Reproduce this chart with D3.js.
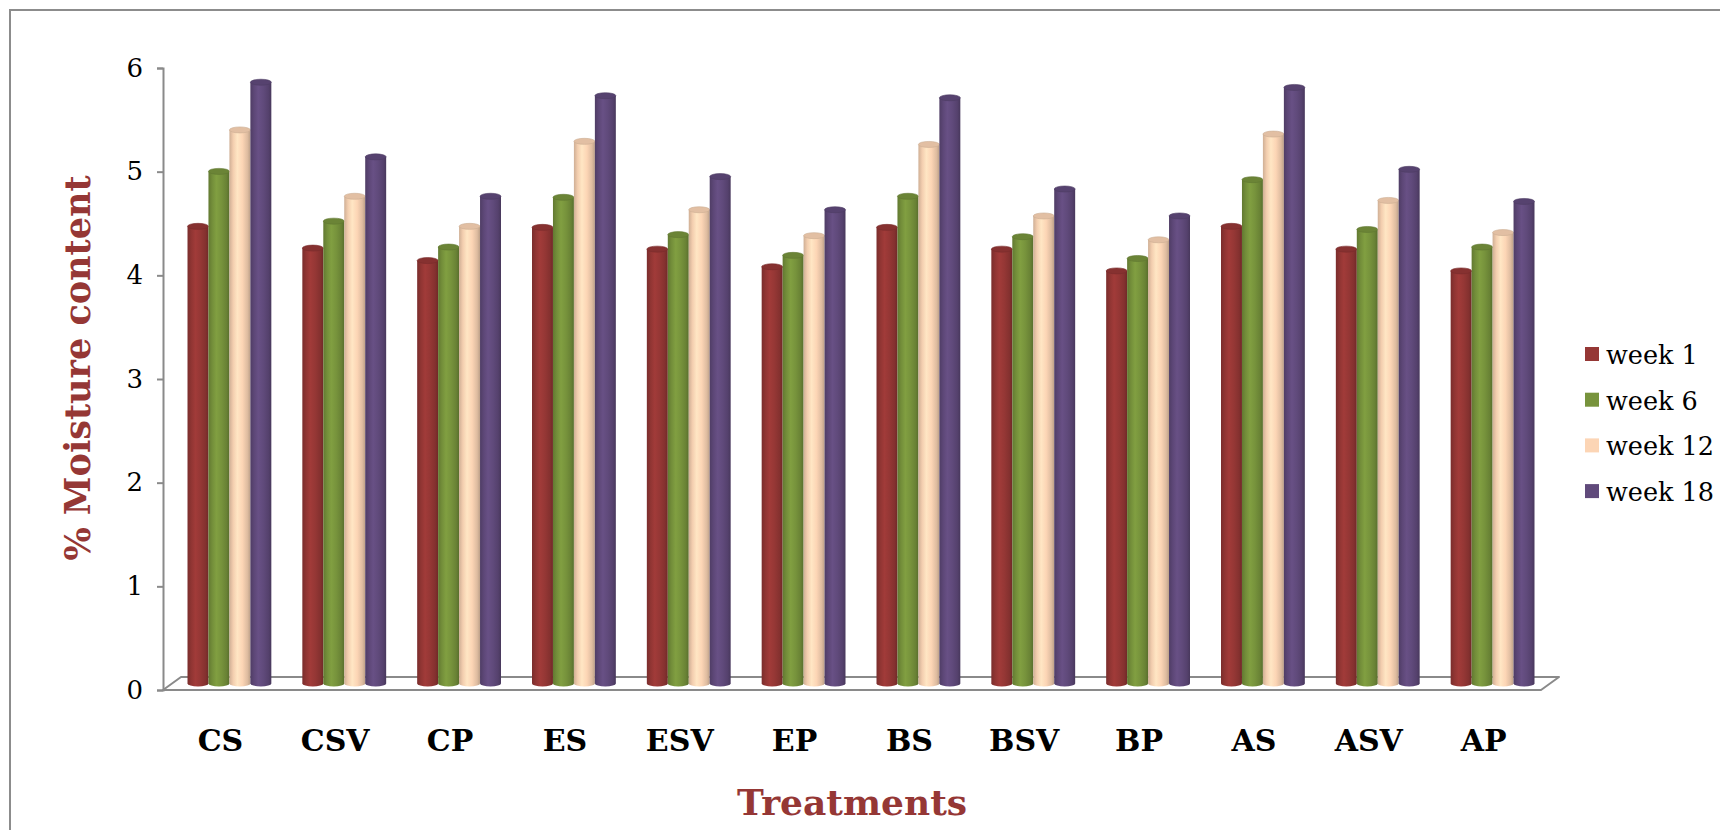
<!DOCTYPE html>
<html>
<head>
<meta charset="utf-8">
<script src="https://cdn.jsdelivr.net/npm/d3@7/dist/d3.min.js"></script>
<style>
  html, body { margin: 0; padding: 0; background: #fff; }
  svg { display: block; }
</style>
</head>
<body>
<svg id="chart" width="1720" height="830"></svg>
<script>
// Treatments along the x axis
const categories = ["CS", "CSV", "CP", "ES", "ESV", "EP", "BS", "BSV", "BP", "AS", "ASV", "AP"];
// Sampling weeks (series)
const seriesNames = ["week 1", "week 6", "week 12", "week 18"];
const seriesColors = ["#953735", "#77933c", "#fcd5b5", "#604a7b"];
// % moisture content per treatment, one array per week
const week1  = [4.41, 4.20, 4.08, 4.40, 4.19, 4.02, 4.40, 4.19, 3.98, 4.41, 4.19, 3.98];
const week6  = [4.94, 4.46, 4.21, 4.69, 4.33, 4.13, 4.70, 4.31, 4.10, 4.86, 4.38, 4.21];
const week12 = [5.34, 4.70, 4.41, 5.23, 4.57, 4.32, 5.20, 4.51, 4.28, 5.30, 4.66, 4.35];
const week18 = [5.80, 5.08, 4.70, 5.67, 4.89, 4.57, 5.65, 4.77, 4.51, 5.75, 4.96, 4.65];
const yTicks = [0, 1, 2, 3, 4, 5, 6];

const seriesValues = [week1, week6, week12, week18];

const svg = d3.select("#chart");
const serif = "'DejaVu Serif', 'Liberation Serif', serif";

// outer frame
svg.append("rect")
  .attr("x", 10).attr("y", 10).attr("width", 1740).attr("height", 860)
  .attr("fill", "none").attr("stroke", "#8c8c8c").attr("stroke-width", 2);

const plotLeft = 163, plotRight = 1541, plotTop = 68, plotBottom = 690;
// oblique depth of the floor; bars stand halfway back
const depthX = 18, depthY = -13;
const midX = depthX / 2, midY = depthY / 2;

const y = d3.scaleLinear().domain([0, 6]).range([plotBottom, plotTop]);
const x0 = d3.scaleBand().domain(categories).range([plotLeft, plotRight])
  .paddingInner(0.27).paddingOuter(0.135);
const x1 = d3.scaleBand().domain(seriesNames).range([0, x0.bandwidth()]);

// gradients giving each bar a rounded, lit look
const defs = svg.append("defs");
seriesColors.forEach((c, i) => {
  const base = d3.color(c);
  const g = defs.append("linearGradient").attr("id", "cyl" + i)
    .attr("x1", "0%").attr("x2", "100%").attr("y1", "0%").attr("y2", "0%");
  const stops = [
    [0, base.darker(0.55)],
    [0.18, base.darker(0.1)],
    [0.38, base.brighter(0.22)],
    [0.62, base],
    [0.86, base.darker(0.35)],
    [1, base.darker(0.8)]
  ];
  stops.forEach(([o, col]) => g.append("stop").attr("offset", o).attr("stop-color", col.formatHex()));
});

// floor
const floor = [
  [plotLeft, plotBottom],
  [plotLeft + depthX, plotBottom + depthY],
  [plotRight + depthX, plotBottom + depthY],
  [plotRight, plotBottom]
];
svg.append("path")
  .attr("d", "M" + floor.map(p => p.join(",")).join("L") + "Z")
  .attr("fill", "#fff").attr("stroke", "#8a8a8a").attr("stroke-width", 2)
  .attr("stroke-linejoin", "round");

// value axis
const yAxis = svg.append("g")
  .attr("transform", `translate(${plotLeft},0)`)
  .call(d3.axisLeft(y).tickValues(yTicks).tickFormat(d3.format("d")).tickSize(6).tickPadding(14));
yAxis.select(".domain").attr("stroke", "#8a8a8a").attr("stroke-width", 2);
yAxis.selectAll(".tick line").attr("stroke", "#8a8a8a").attr("stroke-width", 2);
yAxis.selectAll(".tick text")
  .attr("font-family", serif).attr("font-size", 26).attr("fill", "#000");

// cylinders
const rx = x1.bandwidth() / 2, ry = 3;
const groups = svg.append("g").selectAll("g")
  .data(categories)
  .join("g")
  .attr("transform", d => `translate(${x0(d) + midX},${midY})`);

groups.each(function (cat, ci) {
  const g = d3.select(this);
  seriesNames.forEach((s, si) => {
    const v = seriesValues[si][ci];
    const cx = x1(s) + rx;
    const yTop = y(v), yBase = y(0);
    const base = d3.color(seriesColors[si]);
    g.append("ellipse")
      .attr("cx", cx).attr("cy", yBase).attr("rx", rx).attr("ry", ry)
      .attr("fill", `url(#cyl${si})`);
    g.append("rect")
      .attr("x", x1(s)).attr("y", yTop).attr("width", x1.bandwidth()).attr("height", yBase - yTop)
      .attr("fill", `url(#cyl${si})`);
    g.append("ellipse")
      .attr("cx", cx).attr("cy", yTop).attr("rx", rx).attr("ry", ry)
      .attr("fill", base.darker(0.3).formatHex())
      .attr("stroke", base.darker(0.6).formatHex()).attr("stroke-width", 0.6);
  });
});

// category labels
svg.append("g").selectAll("text")
  .data(categories)
  .join("text")
  .attr("x", d => x0(d) + x0.bandwidth() / 2)
  .attr("y", 751)
  .attr("text-anchor", "middle")
  .attr("font-family", serif).attr("font-weight", "bold").attr("font-size", 30)
  .attr("fill", "#000")
  .text(d => d);

// axis titles
svg.append("text")
  .attr("x", (plotLeft + plotRight) / 2).attr("y", 815)
  .attr("text-anchor", "middle")
  .attr("font-family", serif).attr("font-weight", "bold").attr("font-size", 36)
  .attr("fill", "#953735")
  .text("Treatments");

svg.append("text")
  .attr("transform", "translate(90,368) rotate(-90)")
  .attr("text-anchor", "middle")
  .attr("font-family", serif).attr("font-weight", "bold").attr("font-size", 35)
  .attr("fill", "#953735")
  .text("% Moisture content");

// legend
const legend = svg.append("g").attr("transform", "translate(1585,347)");
const items = legend.selectAll("g").data(seriesNames).join("g")
  .attr("transform", (d, i) => `translate(0,${i * 45.7})`);
items.append("rect").attr("width", 14).attr("height", 14)
  .attr("fill", (d, i) => seriesColors[i]);
items.append("text").attr("x", 21).attr("y", 17)
  .attr("font-family", serif).attr("font-size", 25.5).attr("fill", "#000")
  .text(d => d);
</script>
</body>
</html>
